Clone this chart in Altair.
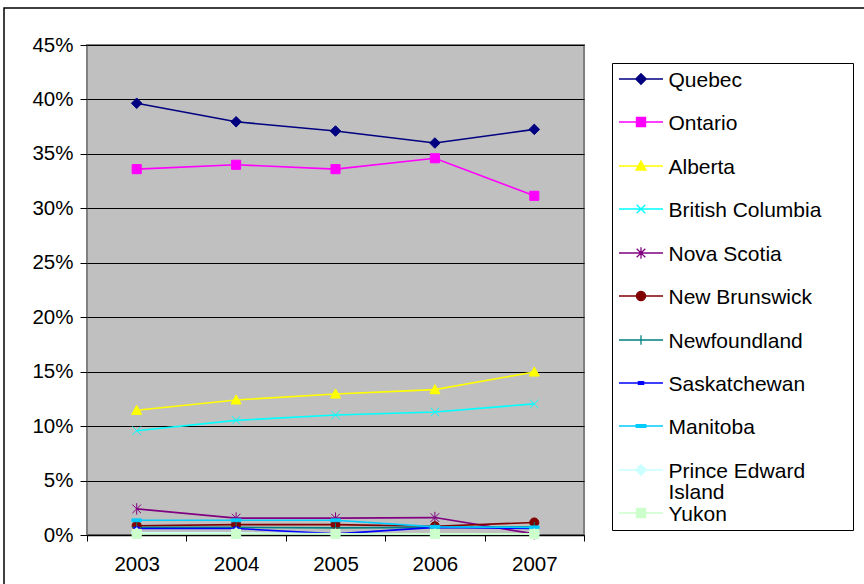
import math

import altair as alt
import pandas as pd

FONT = "Liberation Sans"

# Share of total by province, 2003-2007
years = ["2003", "2004", "2005", "2006", "2007"]
series = [
    "Quebec", "Ontario", "Alberta", "British Columbia", "Nova Scotia",
    "New Brunswick", "Newfoundland", "Saskatchewan", "Manitoba",
    "Prince Edward Island", "Yukon",
]
quebec = [0.3965, 0.3795, 0.3710, 0.3600, 0.3725]
ontario = [0.3360, 0.3400, 0.3360, 0.3460, 0.3115]
alberta = [0.1145, 0.1240, 0.1295, 0.1335, 0.1497]
british_columbia = [0.0958, 0.1053, 0.1102, 0.1130, 0.1204]
nova_scotia = [0.0240, 0.0155, 0.0155, 0.0160, 0.0010]
new_brunswick = [0.0085, 0.0095, 0.0095, 0.0080, 0.0115]
newfoundland = [0.0070, 0.0070, 0.0065, 0.0070, 0.0075]
saskatchewan = [0.0060, 0.0060, 0.0010, 0.0070, 0.0060]
manitoba = [0.0135, 0.0135, 0.0135, 0.0075, 0.0070]
prince_edward_island = [0.0020, 0.0020, 0.0010, 0.0010, 0.0010]
yukon = [0.0010, 0.0010, 0.0010, 0.0010, 0.0010]

all_values = [
    quebec, ontario, alberta, british_columbia, nova_scotia, new_brunswick,
    newfoundland, saskatchewan, manitoba, prince_edward_island, yukon,
]
colors = [
    "#000080", "#FF00FF", "#FFFF00", "#00FFFF", "#800080", "#800000",
    "#008080", "#0000FF", "#00CCFF", "#CCFFFF", "#CCFFCC",
]
marker_kinds = [
    "diamond", "square", "triangle", "x", "asterisk", "circle",
    "plus", "short_dash", "dash", "diamond", "square",
]
y_ticks = [0.0, 0.05, 0.10, 0.15, 0.20, 0.25, 0.30, 0.35, 0.40, 0.45]

rows = []
for name, vals in zip(series, all_values):
    for yr, v in zip(years, vals):
        rows.append({"series": name, "year": yr, "value": v})
df = pd.DataFrame(rows)

# Marker outlines in unit coordinates (+-1 spans the symbol size)
MARKERS = {
    "diamond": [([(0, -1.1), (1.1, 0), (0, 1.1), (-1.1, 0)], True)],
    "square": [([(-0.95, -0.95), (0.95, -0.95), (0.95, 0.95), (-0.95, 0.95)], True)],
    "triangle": [([(0, -1.05), (1.05, 0.85), (-1.05, 0.85)], True)],
    "x": [([(-0.9, -0.9), (0.9, 0.9)], False),
          ([(-0.9, 0.9), (0.9, -0.9)], False)],
    "asterisk": [([(-0.9, -0.9), (0.9, 0.9)], False),
                 ([(-0.9, 0.9), (0.9, -0.9)], False),
                 ([(0, -1.2), (0, 1.2)], False)],
    "plus": [([(-1.0, 0), (1.0, 0)], False), ([(0, -1.0), (0, 1.0)], False)],
    "short_dash": [([(-0.55, -0.3), (0.55, -0.3), (0.55, 0.3), (-0.55, 0.3)], True)],
    "dash": [([(-1, -0.3), (1, -0.3), (1, 0.3), (-1, 0.3)], True)],
}


def marker_path(kind, s=1.0, cy=0.0):
    if kind == "circle":
        a = 0.95 * s
        return (f"M{-a:.4f},{cy:.4f}A{a:.4f},{a:.4f} 0 1,0 {a:.4f},{cy:.4f}"
                f"A{a:.4f},{a:.4f} 0 1,0 {-a:.4f},{cy:.4f}Z")
    out = ""
    for pts, closed in MARKERS[kind]:
        out += "M" + "L".join(f"{x * s:.4f},{cy + y * s:.4f}" for x, y in pts)
        if closed:
            out += "Z"
    return out


plot_shapes = [marker_path(k) for k in marker_kinds]

# Legend symbols: a 44px line with the marker on it. The extra move-to
# points draw nothing; they only set how far each entry reaches, which
# fixes the row spacing and the width of the legend box.
S_LEG = 1190.25
r_leg = math.sqrt(S_LEG) / 2
half_line = 22 / r_leg
cy = -7.5 / r_leg
k = 4.8 / r_leg
ext_right = 203.6 / r_leg
row_steps = [43, 44, 43, 44, 43, 44, 43, 43, 44]
legend_shapes = []
for i, kind in enumerate(marker_kinds):
    p = f"M{-half_line:.4f},{cy:.4f}L{half_line:.4f},{cy:.4f}" + marker_path(kind, k, cy)
    if i < len(row_steps):
        p += f"M0,{(row_steps[i] - 20.7) / r_leg:.4f}"
    p += f"M{ext_right:.4f},{cy:.4f}"
    legend_shapes.append(p)

x_enc = alt.X(
    "year:O",
    scale=alt.Scale(type="band", paddingInner=0, paddingOuter=0),
    axis=alt.Axis(title=None, labelAngle=0, tickBand="extent"),
)
y_enc = alt.Y(
    "value:Q",
    scale=alt.Scale(domain=[0, 0.45], nice=False),
    axis=alt.Axis(title=None, values=y_ticks, format=".0%"),
)

frame = alt.Chart(pd.DataFrame({"k": [0]})).mark_rect(
    fillOpacity=0, stroke="black", strokeWidth=1.5
).encode(
    x=alt.value(-83), y=alt.value(-37), x2=alt.value(800), y2=alt.value(600)
)

lines = alt.Chart(df).mark_line(strokeWidth=1.6).encode(
    x=x_enc,
    y=y_enc,
    color=alt.Color("series:N", scale=alt.Scale(domain=series, range=colors), legend=None),
)

points = alt.Chart(df).mark_point(size=92, strokeWidth=1, opacity=1).encode(
    x=x_enc,
    y=y_enc,
    fill=alt.Fill("series:N", scale=alt.Scale(domain=series, range=colors), legend=None),
    stroke=alt.Stroke("series:N", scale=alt.Scale(domain=series, range=colors), legend=None),
    shape=alt.Shape("series:N", scale=alt.Scale(domain=series, range=plot_shapes), legend=None),
)

leg = alt.Legend(
    title=None,
    orient="none",
    legendX=525,
    legendY=18,
    symbolSize=S_LEG,
    symbolStrokeWidth=1.3,
    symbolOpacity=1,
    symbolOffset=5.5,
    labelFont=FONT,
    labelFontSize=21,
    labelColor="black",
    labelBaseline="alphabetic",
    labelOffset=9.5,
    labelLimit=400,
    labelExpr="datum.label == 'Prince Edward Island' ? ['Prince Edward', 'Island'] : datum.label",
    padding=5.5,
    rowPadding=0,
    strokeColor="black",
    fillColor="white",
)

legend_layer = alt.Chart(df).transform_filter("false").mark_point(opacity=1).encode(
    fill=alt.Fill("series:N", scale=alt.Scale(domain=series, range=colors), legend=leg),
    stroke=alt.Stroke("series:N", scale=alt.Scale(domain=series, range=colors), legend=leg),
    shape=alt.Shape("series:N", scale=alt.Scale(domain=series, range=legend_shapes), legend=leg),
)

chart = (
    alt.layer(frame, lines, points, legend_layer)
    .resolve_scale(fill="independent", stroke="independent", shape="independent")
    .properties(
        width=497,
        height=490,
        padding={"left": 87, "top": 45, "right": 280, "bottom": 49},
        autosize=alt.AutoSizeParams(type="none"),
        view=alt.ViewBackground(fill="#C0C0C0", stroke="#808080", strokeWidth=2),
    )
    .configure(
        font=FONT,
        style={
            "guide-label": {"lineHeight": 21},
            "cell": {"fill": "#C0C0C0", "stroke": "#808080", "strokeWidth": 2},
        },
    )
    .configure_axisX(
        tickSize=6, tickColor="black", domainColor="black", domainWidth=1.5,
        labelFontSize=20.5, labelColor="black", labelPadding=13, grid=False,
    )
    .configure_axisY(
        tickSize=7, tickColor="black", domain=False, gridColor="black",
        gridWidth=1, gridOpacity=1, labelFontSize=20.5, labelColor="black",
        labelPadding=7,
    )
)

chart.save("out.html", embed_options={"renderer": "svg", "actions": False})
